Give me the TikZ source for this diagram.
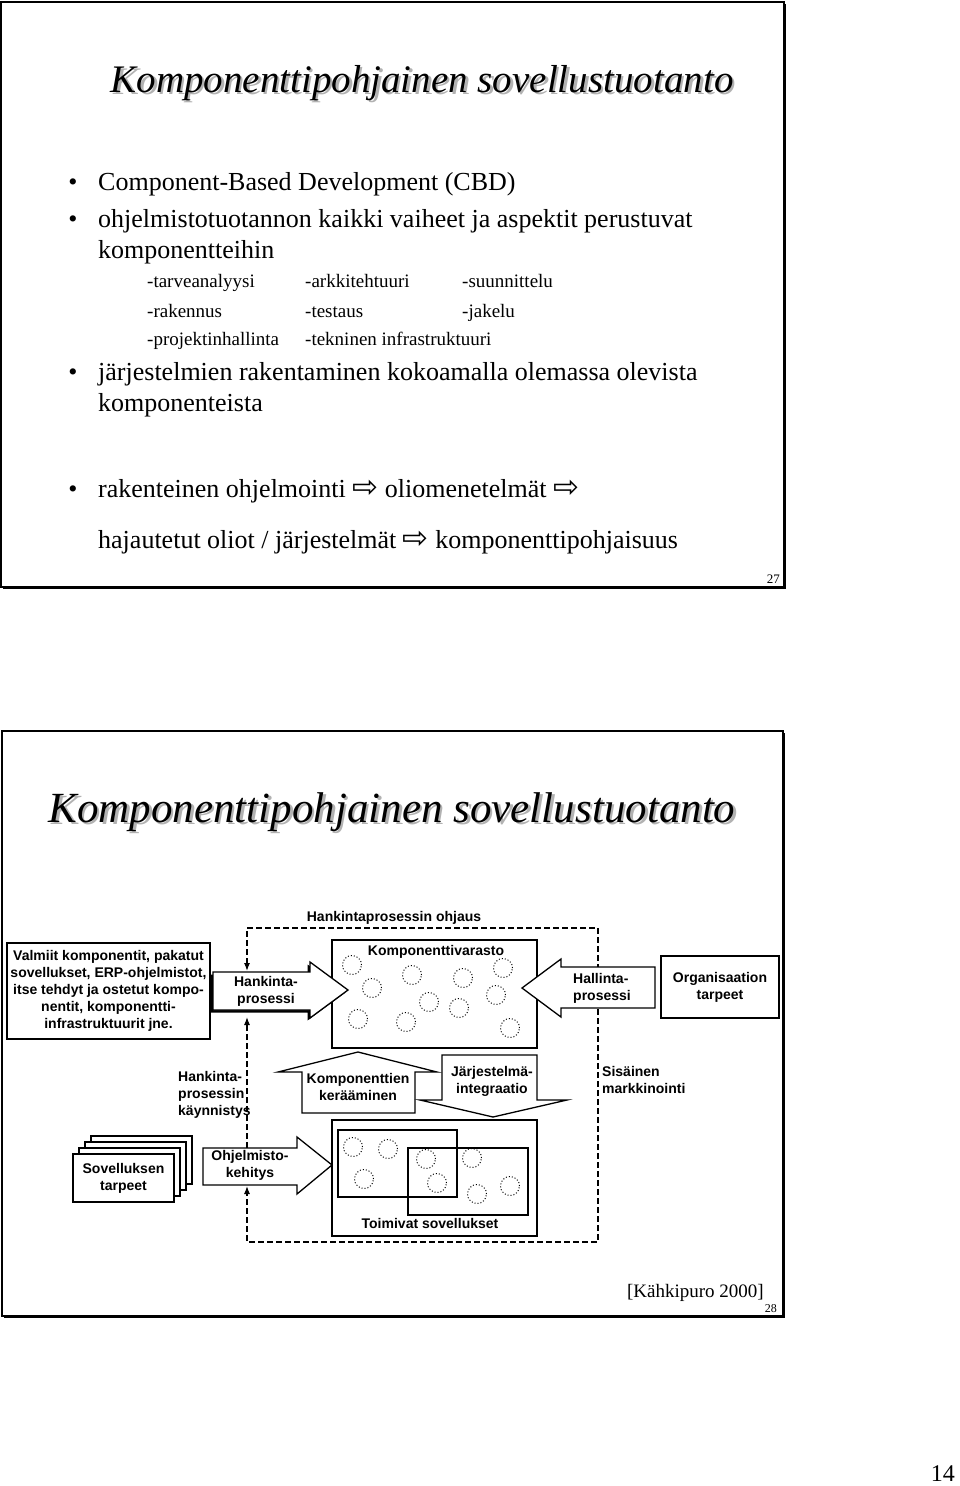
\documentclass[tikz,border=0pt]{standalone}
\usepackage{fontspec}
\setmainfont{Liberation Serif}
\setsansfont{Liberation Sans}
\newfontfamily\symfont{DejaVu Sans}
\newcommand\hollowarrow{{\symfont\fontsize{31}{31}\selectfont ⇨}}
\usetikzlibrary{arrows.meta}

\begin{document}
\begin{tikzpicture}[
    x=1pt, y=-1pt,
    slideframe/.style={draw, line width=1.3pt},
    titletext/.style={anchor=base, inner sep=0pt, font=\fontsize{39}{44}\selectfont\itshape},
    bodytext/.style={anchor=base west, inner sep=0pt, font=\fontsize{26}{30}\selectfont},
    subtext/.style={anchor=base west, inner sep=0pt, font=\fontsize{19}{22}\selectfont},
    mybox/.style={draw, line width=1.4pt, fill=white, inner sep=0pt},
    myarrow/.style={draw, line width=1.3pt, fill=white, line join=miter},
    mylabel/.style={font=\sffamily\bfseries\fontsize{14}{17}\selectfont, align=center, inner sep=0pt},
    mycirc/.style={dotted, line width=1pt},
    myedge/.style={line width=1.2pt, dash pattern=on 6pt off 3pt},
    mytip/.style={-{Latex[length=8pt,width=6pt]}}
]
\useasboundingbox (0,0) rectangle (960,1486);
\fill[white] (0,0) rectangle (960,1486);

% --- slide 27 ---
\draw[slideframe] (1,2) rectangle (784,587);
\draw[line width=1.6pt] (3,588.5) -- (785.5,588.5) -- (785.5,4);
\node[titletext, text=black!30] at (424.5,94.5) {Komponenttipohjainen sovellustuotanto};
\node[titletext] (title1) at (422,92) {Komponenttipohjainen sovellustuotanto};

\foreach \by in {190,227,380,497}
  \node[anchor=base, inner sep=0pt, font=\fontsize{26}{30}\selectfont] at (73,\by) {•};
\node[bodytext] (cbd) at (98,190) {Component-Based Development (CBD)};
\node[bodytext] (vaiheet) at (98,227) {ohjelmistotuotannon kaikki vaiheet ja aspektit perustuvat};
\node[bodytext] at (98,258) {komponentteihin};
\node[subtext] at (147,287) {-tarveanalyysi};
\node[subtext] at (305,287) {-arkkitehtuuri};
\node[subtext] at (462,287) {-suunnittelu};
\node[subtext] at (147,317) {-rakennus};
\node[subtext] at (305,317) {-testaus};
\node[subtext] at (462,317) {-jakelu};
\node[subtext] at (147,345) {-projektinhallinta};
\node[subtext] at (305,345) {-tekninen infrastruktuuri};
\node[bodytext] (kokoamalla) at (98,380) {järjestelmien rakentaminen kokoamalla olemassa olevista};
\node[bodytext] at (98,411) {komponenteista};
\node[bodytext] (kehitys) at (98,497) {rakenteinen ohjelmointi \hollowarrow{} oliomenetelmät \hollowarrow};
\node[bodytext] at (98,548) {hajautetut oliot / järjestelmät \hollowarrow{} komponenttipohjaisuus};
\node[anchor=base east, inner sep=0pt, font=\fontsize{13}{15}\selectfont] at (780,583) {27};

% --- slide 28 ---
\draw[slideframe] (2,731) rectangle (783,1316);
\draw[line width=1.6pt] (4,1317.5) -- (784.5,1317.5) -- (784.5,733);
\node[titletext, font=\fontsize{43}{48}\selectfont\itshape, text=black!30] at (394.5,824.5) {Komponenttipohjainen sovellustuotanto};
\node[titletext, font=\fontsize{43}{48}\selectfont\itshape] (title2) at (392,822) {Komponenttipohjainen sovellustuotanto};

% boxes
\node[mybox, mylabel, minimum width=203pt, minimum height=96pt] (valmiit) at (108.5,991)
  {Valmiit komponentit, pakatut\\sovellukset, ERP-ohjelmistot,\\itse tehdyt ja ostetut kompo-\\nentit, komponentti-\\infrastruktuurit jne.};
\node[mybox, minimum width=205pt, minimum height=108pt] (varasto) at (434.5,994) {};
\node[mylabel] (varastoTxt) at (436,952) {Komponenttivarasto};
\foreach \cx/\cy in {352/965,372/988,358/1019,412/975,406/1022,429/1002,463/978,459/1008,503/968,496/995,510/1028}
  \draw[mycirc] (\cx,\cy) circle[radius=9.5pt];
\node[mybox, mylabel, minimum width=118pt, minimum height=62pt] (organisaatio) at (720,987) {Organisaation\\tarpeet};

\node[mybox, minimum width=205pt, minimum height=116pt] (toimivat) at (434.5,1178) {};
\draw[line width=1.3pt] (338,1130) rectangle (457,1197);
\draw[line width=1.3pt] (408,1148) rectangle (528,1215);
\foreach \cx/\cy in {353/1147,388/1149,364/1179,426/1159,472/1158,437/1183,477/1194,510/1186}
  \draw[mycirc] (\cx,\cy) circle[radius=9.5pt];
\node[mylabel] (toimivatTxt) at (430,1223) {Toimivat sovellukset};

\foreach \d in {18,12,6}
  \draw[mybox] (73+\d,1154-\d) rectangle (174+\d,1202-\d);
\node[mybox, mylabel, minimum width=101pt, minimum height=48pt] (tarpeet) at (123.5,1178) {Sovelluksen\\tarpeet};

% dashed control loop
\coordinate (hankTop) at (247,971);
\coordinate (hankBot) at (247,1017);
\coordinate (ohjTop) at (247,1148);
\coordinate (ohjBot) at (247,1186);
\coordinate (ohjausL) at (247,928);
\coordinate (ohjausR) at (598,928);
\coordinate (markkB) at (598,1242);
\coordinate (kaynnB) at (247,1242);
\draw[myedge, {Latex[length=8pt,width=6pt]}-{Latex[length=8pt,width=6pt]}]
  (hankTop) -- (ohjausL) -- (ohjausR) -- (markkB) -- (kaynnB) -- (ohjBot);
\draw[myedge, mytip] (ohjTop) -- (hankBot);
\node[mylabel] (ohjaus) at (394,918) {Hankintaprosessin ohjaus};

% block arrows
\fill[black] (210.5,974.5) -- (307.5,974.5) -- (307.5,964.5) -- (345.5,992.5) -- (307.5,1020.5) -- (307.5,1012.5) -- (210.5,1012.5) -- cycle;
\filldraw[myarrow] (213,972) -- (310,972) -- (310,962) -- (348,990) -- (310,1018) -- (310,1010) -- (213,1010) -- cycle;
\node[mylabel] (hankinta) at (266,991) {Hankinta-\\prosessi};

\filldraw[myarrow] (655,967) -- (561,967) -- (561,959) -- (522,988) -- (561,1017) -- (561,1008) -- (655,1008) -- cycle;
\node[mylabel, align=left] (hallinta) at (602,988) {Hallinta-\\prosessi};

\filldraw[myarrow] (302,1113) -- (302,1072) -- (278,1072) -- (358,1052) -- (437,1072) -- (415,1072) -- (415,1113) -- cycle;
\node[mylabel] (keraaminen) at (358,1087) {Komponenttien\\kerääminen};

\filldraw[myarrow] (442,1055) -- (537,1055) -- (537,1100) -- (567,1100) -- (493,1117) -- (420,1100) -- (442,1100) -- cycle;
\node[mylabel] (integraatio) at (492,1081) {Järjestelmä-\\integraatio};

\filldraw[myarrow] (203,1148) -- (297,1148) -- (297,1137) -- (332,1165) -- (297,1194) -- (297,1185) -- (203,1185) -- cycle;
\node[mylabel] (ohjelmisto) at (250,1165) {Ohjelmisto-\\kehitys};

\node[mylabel, align=left, anchor=west] (kaynnistys) at (178,1095) {Hankinta-\\prosessin\\käynnistys};
\node[mylabel, align=left, anchor=west] (markkinointi) at (602,1080) {Sisäinen\\markkinointi};

\node[anchor=base east, inner sep=0pt, font=\fontsize{19}{22}\selectfont] (lahde) at (764,1297) {[Kähkipuro 2000]};
\node[anchor=base east, inner sep=0pt, font=\fontsize{12}{14}\selectfont] at (777,1312) {28};
\node[anchor=base east, inner sep=0pt, font=\fontsize{24}{28}\selectfont] at (955,1481) {14};
\end{tikzpicture}
\end{document}
